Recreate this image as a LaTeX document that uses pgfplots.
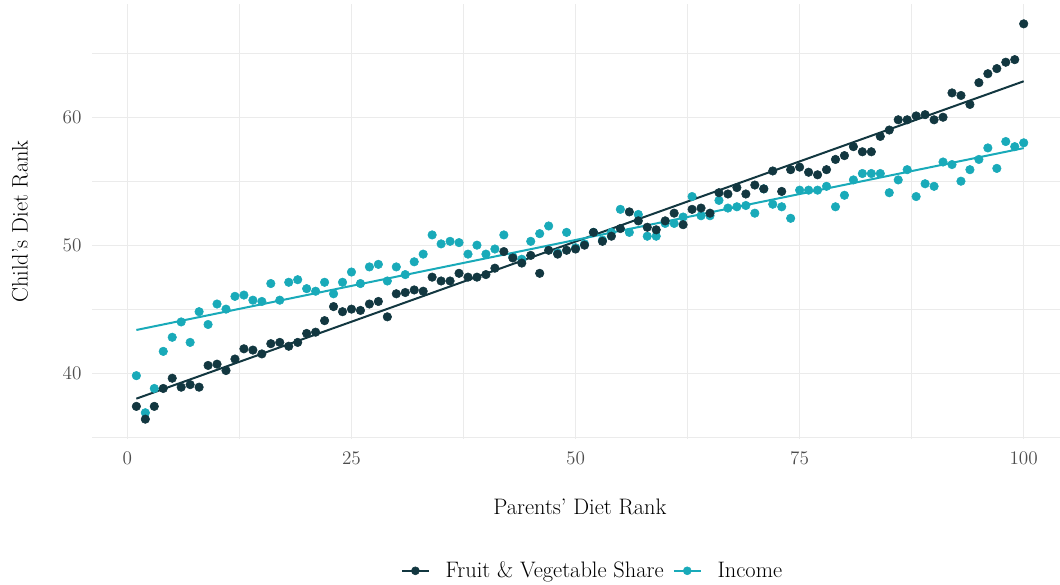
\documentclass[border=0pt]{standalone}
\usepackage{pgfplots}
\usepackage{pgfplotstable}
\pgfplotsset{compat=1.18}

\definecolor{fvcol}{HTML}{123740}
\definecolor{inccol}{HTML}{19AAB9}
\definecolor{gridcol}{HTML}{EBEBEB}
\definecolor{tickcol}{HTML}{4D4D4D}

% Binned ranks: parents' rank (x), child's rank by fruit & veg share (fv) and by income (inc)
\pgfplotstableread{
x fv inc
1 37.4 39.8
2 36.4 36.9
3 37.4 38.8
4 38.8 41.7
5 39.6 42.8
6 38.9 44.0
7 39.1 42.4
8 38.9 44.8
9 40.6 43.8
10 40.7 45.4
11 40.2 45.0
12 41.1 46.0
13 41.9 46.1
14 41.8 45.7
15 41.5 45.6
16 42.3 47.0
17 42.4 45.7
18 42.1 47.1
19 42.4 47.3
20 43.1 46.6
21 43.2 46.4
22 44.1 47.1
23 45.2 46.2
24 44.8 47.1
25 45.0 47.9
26 44.9 47.0
27 45.4 48.3
28 45.6 48.5
29 44.4 47.2
30 46.2 48.3
31 46.3 47.7
32 46.5 48.7
33 46.4 49.3
34 47.5 50.8
35 47.2 50.1
36 47.2 50.3
37 47.8 50.2
38 47.5 49.3
39 47.5 50.0
40 47.7 49.3
41 48.2 49.7
42 49.5 50.8
43 49.0 49.1
44 48.6 48.9
45 49.2 50.3
46 47.8 50.9
47 49.6 51.5
48 49.3 49.4
49 49.6 51.0
50 49.7 49.8
51 50.0 50.1
52 51.0 51.0
53 50.3 50.4
54 50.7 51.0
55 51.3 52.8
56 52.6 51.0
57 51.9 52.4
58 51.4 50.7
59 51.2 50.7
60 51.9 51.7
61 52.5 51.7
62 51.6 52.2
63 52.8 53.8
64 52.9 52.3
65 52.5 52.3
66 54.1 53.5
67 54.0 52.9
68 54.5 53.0
69 54.0 53.1
70 54.7 52.5
71 54.4 54.4
72 55.8 53.2
73 54.2 53.0
74 55.9 52.1
75 56.1 54.3
76 55.7 54.3
77 55.5 54.3
78 55.9 54.6
79 56.7 53.0
80 57.0 53.9
81 57.7 55.1
82 57.3 55.6
83 57.3 55.6
84 58.5 55.6
85 59.0 54.1
86 59.8 55.1
87 59.8 55.9
88 60.1 53.8
89 60.2 54.8
90 59.8 54.6
91 60.0 56.5
92 61.9 56.3
93 61.7 55.0
94 61.0 55.9
95 62.7 56.7
96 63.4 57.6
97 63.8 56.0
98 64.3 58.1
99 64.5 57.7
100 67.3 58.0
}\dietdata

\begin{document}
\begin{tikzpicture}
\begin{axis}[
  at={(69pt,109.5pt)}, anchor=south west,
  scale only axis, width=726pt, height=326.25pt,
  xmin=-3.95, xmax=104.05, ymin=34.85, ymax=68.85,
  xtick={0,25,50,75,100}, minor xtick={12.5,37.5,62.5,87.5},
  ytick={40,50,60}, minor ytick={35,45,55,65},
  grid=both,
  major grid style={gridcol, line width=0.8pt},
  minor grid style={gridcol, line width=0.45pt},
  axis line style={draw=none},
  major tick length=0pt, minor tick length=0pt,
  tick style={draw=none},
  ticklabel style={font=\fontsize{13.6}{16}\selectfont, text=tickcol},
  xticklabel style={anchor=center, yshift=-14.25pt, inner sep=0pt},
  yticklabel style={anchor=east, xshift=-7.7pt, inner sep=0pt},
  label style={font=\fontsize{16.8}{20}\selectfont},
  xlabel={Parents' Diet Rank},
  ylabel={Child's Diet Rank},
  xlabel style={at={(axis description cs:0.504,-0.156)}, anchor=center},
  ylabel style={at={(axis description cs:-0.0744,0.5)}, anchor=center},
  legend style={at={(axis description cs:0.5175,-0.303)}, anchor=center,
    draw=none, fill=none, font=\fontsize{16.8}{20}\selectfont,
    legend columns=2,
    /tikz/every odd column/.append style={column sep=10pt},
    /tikz/every even column/.append style={column sep=5pt}},
  legend image code/.code={
    \draw[#1, line width=1.5pt] (0pt,0pt) -- (20pt,0pt);
    \fill[#1] (10pt,0pt) circle (3pt);
  },
]
\addlegendimage{fvcol}
\addlegendentry{Fruit \& Vegetable Share}
\addlegendimage{inccol}
\addlegendentry{Income}

\addplot[inccol, only marks, mark=*, mark size=3.2pt, mark options={fill=inccol, draw=none}, forget plot]
  table[x=x, y=inc]{\dietdata};
\addplot[fvcol, only marks, mark=*, mark size=3.2pt, mark options={fill=fvcol, draw=none}, forget plot]
  table[x=x, y=fv]{\dietdata};

\addplot[fvcol, line width=1.5pt, no markers, forget plot]
  table[x=x, y={create col/linear regression={y=fv}}]{\dietdata};
\addplot[inccol, line width=1.5pt, no markers, forget plot]
  table[x=x, y={create col/linear regression={y=inc}}]{\dietdata};
\end{axis}
\pgfresetboundingbox
\path[use as bounding box] (0,0) rectangle (795pt,438.75pt);
\end{tikzpicture}
\end{document}
